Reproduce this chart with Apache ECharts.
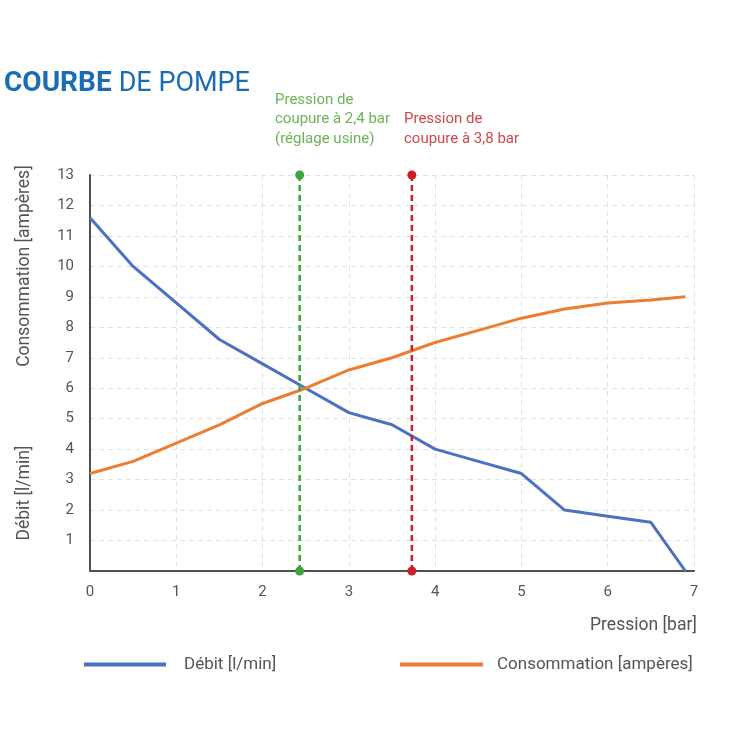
<!DOCTYPE html>
<html><head><meta charset="utf-8">
<script src="https://cdn.jsdelivr.net/npm/echarts@6/dist/echarts.min.js"></script>
<style>html,body{margin:0;padding:0;background:#fff}#c{width:740px;height:740px}</style>
</head><body><div id="c"></div>
<script>
const pressure = [0, 0.5, 1, 1.5, 2, 2.5, 3, 3.5, 4, 4.5, 5, 5.5, 6, 6.5, 6.9];
const debit = [11.6, 10.0, 8.8, 7.6, 6.8, 6.0, 5.2, 4.8, 4.0, 3.6, 3.2, 2.0, 1.8, 1.6, 0];
const consommation = [3.2, 3.6, 4.2, 4.8, 5.5, 6.0, 6.6, 7.0, 7.5, 7.9, 8.3, 8.6, 8.8, 8.9, 9.0];
const cutoffPressures = [2.43, 3.73];
const cutoffRange = [0, 13];
const seriesNames = ['Débit [l/min]', 'Consommation [ampères]'];

const FONT = 'Roboto';
const chart = echarts.init(document.getElementById('c'));
const pairs = (xs, ys) => xs.map((x, i) => [x, ys[i]]);
const vline = (x) => cutoffRange.map(y => [x, y]);

chart.setOption({
  animation: false,
  textStyle: { fontFamily: FONT },
  grid: { left: 90, right: 46, top: 175, bottom: 169 },
  xAxis: {
    type: 'value', min: 0, max: 7, interval: 1,
    axisLine: { lineStyle: { color: '#505050', width: 2 } },
    axisTick: { show: false },
    axisLabel: { color: '#555', fontSize: 15, margin: 14, fontFamily: FONT },
    splitLine: { show: true, lineStyle: { color: '#e2e2e2', type: [5, 4] } }
  },
  yAxis: {
    type: 'value', min: 0, max: 13, interval: 1,
    axisLine: { show: true, lineStyle: { color: '#505050', width: 2 } },
    axisTick: { show: false },
    axisLabel: { color: '#555', fontSize: 15, margin: 16, fontFamily: FONT,
      formatter: v => v === 0 ? '' : String(v) },
    splitLine: { show: true, lineStyle: { color: '#e2e2e2', type: [5, 4] } }
  },
  legend: [
    { data: [seriesNames[0]], left: 84, top: 656, padding: 0, icon: 'rect', itemWidth: 82, itemHeight: 4,
      textStyle: { color: '#555', fontSize: 17, fontFamily: FONT, padding: [0, 0, 0, 13] } },
    { data: [seriesNames[1]], left: 400, top: 656, padding: 0, icon: 'rect', itemWidth: 83, itemHeight: 4,
      textStyle: { color: '#555', fontSize: 17, fontFamily: FONT, padding: [0, 0, 0, 9] } }
  ],
  series: [
    { name: seriesNames[0], type: 'line', data: pairs(pressure, debit), showSymbol: false,
      symbol: 'none', lineStyle: { color: '#4a72c0', width: 3 }, itemStyle: { color: '#4a72c0' }, z: 5 },
    { name: seriesNames[1], type: 'line', data: pairs(pressure, consommation), showSymbol: false,
      symbol: 'none', lineStyle: { color: '#ec7e33', width: 3 }, itemStyle: { color: '#ec7e33' }, z: 5 },
    { name: 'cut1', type: 'line', data: vline(cutoffPressures[0]), symbol: 'circle', symbolSize: 9,
      lineStyle: { color: '#3aa53a', width: 2.5, type: [6, 4] }, itemStyle: { color: '#3aa53a' }, z: 6 },
    { name: 'cut2', type: 'line', data: vline(cutoffPressures[1]), symbol: 'circle', symbolSize: 9,
      lineStyle: { color: '#cc1f2a', width: 2.5, type: [6, 4] }, itemStyle: { color: '#cc1f2a' }, z: 6 }
  ],
  graphic: [
    { type: 'text', left: 4, top: 70, style: {
      text: '{b|COURBE}{r|DE POMPE}',
      rich: {
        b: { fontSize: 28, fontWeight: 'bold', fill: '#1b6db3', fontFamily: FONT },
        r: { fontSize: 27, fontWeight: 'normal', fill: '#1b6db3', fontFamily: FONT, padding: [0, 0, 0, 7] }
      } } },
    { type: 'text', left: 275, top: 90, style: {
      text: 'Pression de\ncoupure à 2,4 bar\n(réglage usine)', fill: '#6cb357',
      fontSize: 15, lineHeight: 19.5, fontFamily: FONT } },
    { type: 'text', left: 404, top: 109.5, style: {
      text: 'Pression de\ncoupure à 3,8 bar', fill: '#d2454b',
      fontSize: 15, lineHeight: 19.5, fontFamily: FONT } },
    { type: 'text', x: 25, y: 266, rotation: Math.PI / 2, style: {
      text: 'Consommation [ampères]', fill: '#555', fontSize: 17.5, fontFamily: FONT,
      align: 'center', verticalAlign: 'middle' } },
    { type: 'text', x: 25, y: 493, rotation: Math.PI / 2, style: {
      text: 'Débit [l/min]', fill: '#555', fontSize: 17.5, fontFamily: FONT,
      align: 'center', verticalAlign: 'middle' } },
    { type: 'text', x: 697, y: 626, style: {
      text: 'Pression [bar]', fill: '#555', fontSize: 17.5, fontFamily: FONT,
      align: 'right', verticalAlign: 'middle' } }
  ]
});
</script></body></html>
